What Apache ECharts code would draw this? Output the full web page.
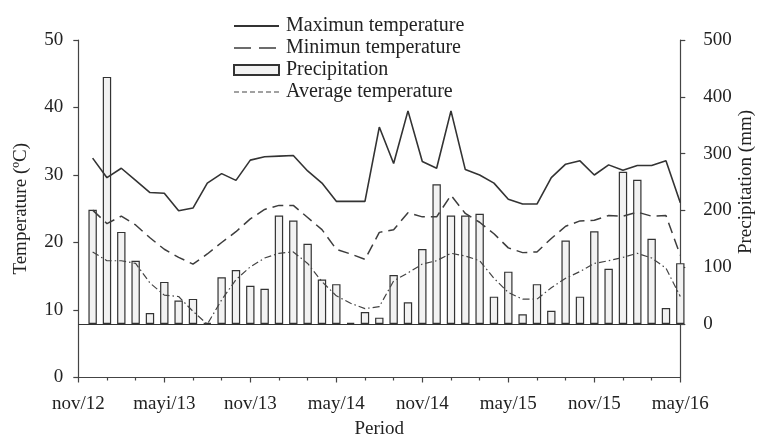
<!DOCTYPE html>
<html><head><meta charset="utf-8">
<script src="https://cdn.jsdelivr.net/npm/echarts@6/dist/echarts.min.js"></script>
<style>html,body{margin:0;padding:0;background:#fff}#c{width:759px;height:435px}</style>
</head><body><div id="c"></div>
<script>
// x positions are months since nov/12 (dec/12 = 1 ... may/16 = 42)
const tickLabels = ['nov/12','mayi/13','nov/13','may/14','nov/14','may/15','nov/15','may/16'];
const maxTemp = [32.5,29.6,31.0,29.2,27.4,27.3,24.7,25.1,28.8,30.2,29.2,32.2,32.7,32.8,32.9,30.6,28.8,26.1,26.1,26.1,37.1,31.7,39.5,32.0,31.0,39.5,30.8,30.0,28.8,26.4,25.7,25.7,29.6,31.6,32.1,30.0,31.5,30.7,31.4,31.4,32.1,25.9];
const minTemp = [24.8,22.8,23.9,22.6,20.7,19.0,17.8,16.8,18.3,20.0,21.6,23.5,24.9,25.5,25.5,23.7,21.9,19.0,18.3,17.5,21.5,21.9,24.4,23.8,23.8,27.0,24.3,23.0,21.3,19.2,18.5,18.6,20.6,22.4,23.2,23.3,24.0,23.9,24.5,23.9,24.0,18.1];
const avgTemp = [18.6,17.3,17.3,16.9,14.0,12.2,12.0,9.8,7.9,11.5,14.5,16.4,17.7,18.4,18.6,16.9,14.2,12.1,11.0,10.2,10.5,14.3,15.5,16.8,17.3,18.4,18.0,17.3,14.7,12.6,11.6,11.6,13.3,14.7,15.7,16.9,17.3,17.8,18.4,17.7,16.2,12.0];
const precip = [201,435,162,111,19,74,41,44,2,82,95,67,62,191,182,141,78,70,2,21,11,86,38,132,246,191,191,194,48,92,17,70,23,147,48,163,97,268,254,150,28,107];
const precipTicks = [0,100,200,300,400,500];

const toXY = arr => arr.map((v, i) => [i + 1, v]);
const FONT = "'Liberation Serif','Times New Roman',serif";
const TXT = '#222';
const AX = '#444';
const noSym = {opacity: 0};

const chart = echarts.init(document.getElementById('c'), null, {renderer: 'canvas'});
chart.setOption({
  animation: false,
  backgroundColor: '#fff',
  textStyle: {fontFamily: FONT, color: TXT},
  grid: {left: 78.3, right: 78.7, top: 40, bottom: 57.5, containLabel: false, outerBoundsMode: 'none'},
  legend: {
    orient: 'vertical', left: 228, top: 11, itemWidth: 45, itemHeight: 10, itemGap: 2,
    textStyle: {fontFamily: FONT, fontSize: 20, color: TXT, padding: [0, 0, 0, 2]},
    data: [
      {name: 'Maximun temperature', itemStyle: noSym},
      {name: 'Minimun temperature', itemStyle: noSym, lineStyle: {type: [17, 8], width: 1.5, color: '#3d3d3d'}},
      {name: 'Precipitation', icon: 'rect'},
      {name: 'Average temperature', itemStyle: noSym, lineStyle: {type: [5, 3], width: 1.2, color: '#444'}}
    ]
  },
  xAxis: {
    type: 'value', min: 0, max: 42, interval: 6,
    name: 'Period', nameLocation: 'middle', nameGap: 42,
    nameTextStyle: {fontFamily: FONT, fontSize: 19, color: TXT},
    axisLine: {show: true, lineStyle: {color: AX, width: 1.2}},
    axisTick: {show: true, length: 5, lineStyle: {color: AX, width: 1.2}},
    minorTick: {show: true, splitNumber: 3, length: 3, lineStyle: {color: AX, width: 1.2}},
    splitLine: {show: false},
    axisLabel: {margin: 17, fontFamily: FONT, fontSize: 19, color: TXT,
      formatter: v => tickLabels[Math.round(v / 6)] || ''}
  },
  yAxis: [
    {
      type: 'value', min: 0, max: 50, interval: 10, position: 'left',
      name: 'Temperature (ºC)', nameLocation: 'middle', nameGap: 48, nameRotate: 90,
      nameTextStyle: {fontFamily: FONT, fontSize: 19, color: TXT},
      axisLine: {show: true, lineStyle: {color: AX, width: 1.2}},
      axisTick: {show: true, length: 5, lineStyle: {color: AX, width: 1.2}},
      splitLine: {show: false},
      axisLabel: {margin: 15, fontFamily: FONT, fontSize: 19, color: TXT}
    },
    {
      type: 'value', min: -94.4, max: 500, position: 'right',
      axisLine: {show: true, lineStyle: {color: AX, width: 1.2}},
      axisTick: {show: true, length: 5, customValues: precipTicks, lineStyle: {color: AX, width: 1.2}},
      splitLine: {show: false},
      axisLabel: {margin: 23, fontFamily: FONT, fontSize: 19, color: TXT, customValues: precipTicks}
    }
  ],
  graphic: [{
    type: 'text', x: 746, y: 182, rotation: Math.PI / 2,
    style: {text: 'Precipitation (mm)', x: 0, y: 0, font: "19px 'Liberation Serif'", fill: TXT,
      align: 'center', verticalAlign: 'middle'}
  }],
  series: [
    {
      name: 'Maximun temperature', type: 'line', yAxisIndex: 0, z: 5,
      data: toXY(maxTemp), symbol: 'none', showSymbol: false,
      lineStyle: {color: '#333', width: 1.6, type: 'solid'}, itemStyle: {color: '#333'}
    },
    {
      name: 'Minimun temperature', type: 'line', yAxisIndex: 0, z: 5,
      data: toXY(minTemp), symbol: 'none', showSymbol: false,
      lineStyle: {color: '#3d3d3d', width: 1.5, type: [11, 6]}, itemStyle: {color: '#3d3d3d'}
    },
    {
      name: 'Precipitation', type: 'bar', yAxisIndex: 1, z: 2, barWidth: 8.4, clip: true,
      data: toXY(precip),
      itemStyle: {color: '#f2f2f2', borderColor: '#333', borderWidth: 1.2},
      markLine: {silent: true, symbol: 'none', label: {show: false},
        lineStyle: {color: '#333', width: 1.2, type: 'solid'}, data: [{yAxis: 0}]}
    },
    {
      name: 'Average temperature', type: 'line', yAxisIndex: 0, z: 5,
      data: toXY(avgTemp), symbol: 'none', showSymbol: false,
      lineStyle: {color: '#444', width: 1.2, type: [7, 3, 1.5, 3]}, itemStyle: {color: '#444'}
    }
  ]
});
</script></body></html>
